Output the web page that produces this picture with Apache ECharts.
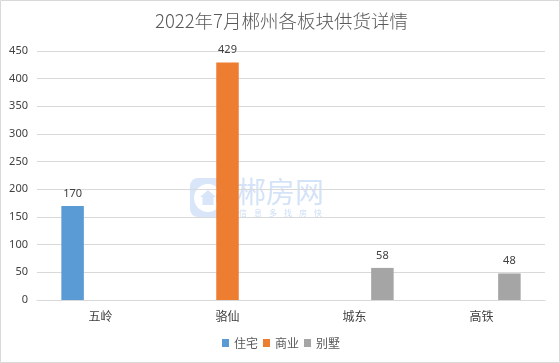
<!DOCTYPE html>
<html><head><meta charset="utf-8">
<style>html,body{margin:0;padding:0;background:#fff}#c{width:560px;height:363px}</style>
<script src="https://cdn.jsdelivr.net/npm/echarts@6/dist/echarts.min.js"></script></head>
<body><div id="c"></div>
<script>
const titleText = '2022年7月郴州各板块供货详情';
const categories = ['五岭','骆仙','城东','高铁'];
const zhuzhai = [170,null,null,null];
const shangye = [null,429,null,null];
const bieshu = [null,null,58,48];
const yTicks = {min:0,max:450,interval:50};
const markName = '郴房网';
const markSlogan = ['信','息','多','找','房','快'];
const font = '"Noto Sans CJK SC","Noto Sans",sans-serif';
const numFont = '"Noto Sans","Noto Sans CJK SC",sans-serif';
const chart = echarts.init(document.getElementById('c'),null,{renderer:'canvas'});
const label = {show:true,position:'top',distance:7,color:'#404040',fontSize:11,fontFamily:numFont};
function s(name,data,color){return {name,type:'bar',data,barWidth:22.5,barGap:'24%',itemStyle:{color},label};}
const tint = 'rgba(140,180,240,0.33)';
// watermark badge outline: rounded square with a round keyhole cut-out
function arc(cx,cy,r,a0,a1,n){const p=[];for(let i=0;i<=n;i++){const a=(a0+(a1-a0)*i/n)*Math.PI/180;p.push([cx+r*Math.cos(a),cy+r*Math.sin(a)]);}return p;}
const badge = [
 ...arc(198,186,8,180,270,6),...arc(220,186,8,270,360,6),
 ...arc(220,209,8,0,90,6),...arc(198,209,8,90,180,6),
 [190,198],...arc(208,198,14,180,-180,48),[190,198]
];
chart.setOption({
 animation:false,
 backgroundColor:'#fff',
 title:{text:titleText,left:150,top:7,textStyle:{color:'#595959',fontSize:18.5,fontWeight:300,fontFamily:font}},
 legend:{top:337,left:222,padding:0,itemWidth:7,itemHeight:8,itemGap:5,icon:'rect',textStyle:{color:'#595959',fontSize:12,fontFamily:font},data:['住宅','商业','别墅']},
 grid:{left:37,right:15,top:51,bottom:63},
 xAxis:{type:'category',data:categories,axisTick:{show:false},axisLine:{lineStyle:{color:'#d9d9d9',width:1}},axisLabel:{color:'#404040',fontSize:12,fontFamily:font,margin:10}},
 yAxis:{type:'value',min:yTicks.min,max:yTicks.max,interval:yTicks.interval,axisLine:{show:false},axisTick:{show:false},splitLine:{lineStyle:{color:'#d9d9d9'}},axisLabel:{color:'#404040',fontSize:11,fontFamily:numFont,margin:9}},
 series:[s('住宅',zhuzhai,'#5b9bd5'),s('商业',shangye,'#ed7d31'),s('别墅',bieshu,'#a5a5a5')],
 graphic:[
  {type:'rect',z:-1,silent:true,shape:{x:0.5,y:0.5,width:559,height:362},style:{fill:'none',stroke:'#d9d9d9',lineWidth:1}},
  {type:'group',z:100,silent:true,children:[
   {type:'polygon',shape:{points:badge},style:{fill:tint}},
   {type:'rect',shape:{x:216,y:194,width:7,height:8},style:{fill:tint}},
   {type:'polygon',shape:{points:[[208,190],[216,197],[213.5,197],[213.5,205],[202.5,205],[202.5,197],[200,197]]},style:{fill:tint}},
   {type:'text',style:{x:237,y:177,text:markName,fill:'rgba(170,200,240,0.5)',font:'29px "Noto Sans CJK SC"'}},
   ...markSlogan.map((t,i)=>({type:'text',style:{x:239+i*15,y:208.5,text:t,fill:'rgba(170,200,240,0.6)',font:'8px "Noto Sans CJK SC"'}}))
  ]}
 ]
});
</script></body></html>
